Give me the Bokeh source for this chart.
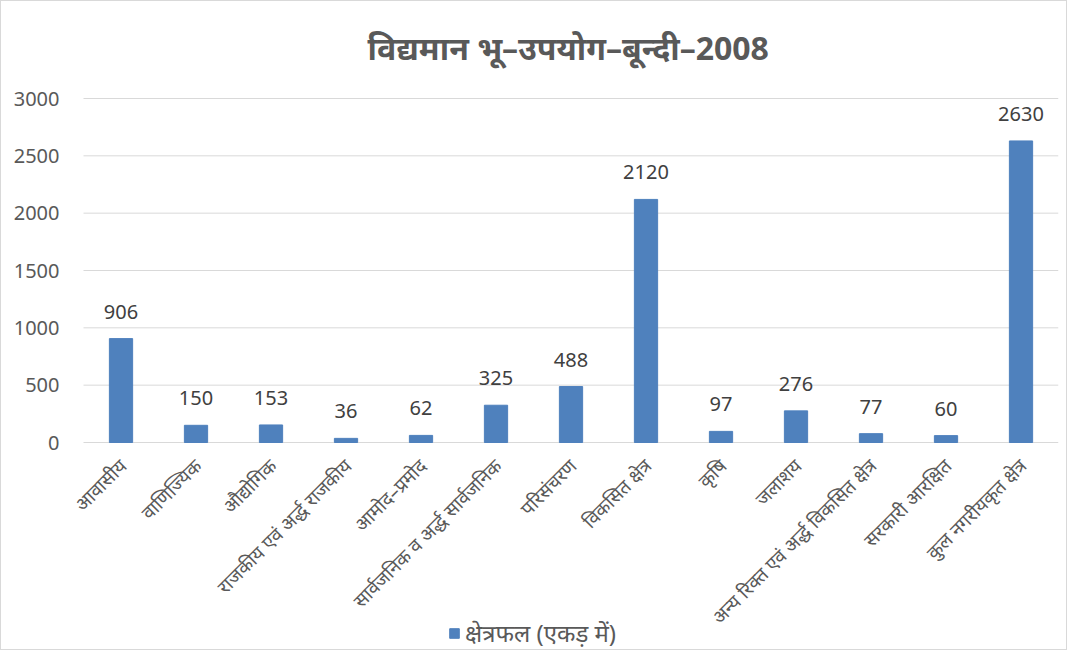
import math
from bokeh.plotting import figure
from bokeh.models import ColumnDataSource, Range1d, Legend, LegendItem
from bokeh.core.properties import value
from bokeh.embed import file_html
from bokeh.resources import INLINE

categories = ["आवासीय", "वाणिज्यिक", "औद्योगिक", "राजकीय एवं अर्द्ध राजकीय", "आमोद–प्रमोद",
              "सार्वजनिक व अर्द्ध सार्वजनिक", "परिसंचरण", "विकसित क्षेत्र", "कृषि", "जलाशय",
              "अन्य रिक्त एवं अर्द्ध विकसित क्षेत्र", "सरकारी आरक्षित", "कुल नगरीयकृत क्षेत्र"]
area = [906, 150, 153, 36, 62, 325, 488, 2120, 97, 276, 77, 60, 2630]
y_ticks = [0, 500, 1000, 1500, 2000, 2500, 3000]
title_text = "विद्यमान भू–उपयोग–बून्दी–2008"
series_name = "क्षेत्रफल (एकड़ में)"

FONT = "Noto Sans"
W, H = 1067, 650
PLOT_L, TOP_TICK, ZERO_Y, RIGHT = 82, 97, 441, 1057
FRAME_TOP = 78
n = len(categories)
px_per_cat = (RIGHT - PLOT_L) / n
ytop_tick = y_ticks[-1]
px_per_unit = (ZERO_Y - TOP_TICK) / ytop_tick
ymin = -(H - ZERO_Y) / px_per_unit
ymax = (ZERO_Y - FRAME_TOP) / px_per_unit

xs = [i + 0.5 for i in range(n)]
source = ColumnDataSource(dict(x=xs, cat=categories, val=area, lab=[str(v) for v in area],
                               zero=[0] * n))
tick_src = ColumnDataSource(dict(y=y_ticks, lab=[str(t) for t in y_ticks],
                                 x0=[0] * len(y_ticks), x1=[n] * len(y_ticks)))

p = figure(width=W, height=H, x_range=Range1d(-PLOT_L / px_per_cat, n),
           y_range=Range1d(ymin, ymax), output_backend="svg", toolbar_location=None,
           x_axis_location=None, y_axis_location=None,
           min_border_left=0, min_border_right=W - RIGHT, min_border_top=FRAME_TOP,
           min_border_bottom=0)
p.outline_line_color = None
p.grid.visible = False
p.background_fill_color = "white"
p.border_fill_color = "white"
p.styles = {"border": "1px solid #d9d9d9"}

# gridlines and value axis labels
p.segment(x0="x0", x1="x1", y0="y", y1="y", source=tick_src, line_color="#d9d9d9", line_width=1)
p.text(x="x0", y="y", text="lab", source=tick_src, text_align="right", text_baseline="middle",
       x_offset=-24, text_font=value(FONT), text_font_size="20px", text_color="#595959")

r = p.vbar(x="x", top="val", width=0.31, source=source, color="#4F81BD")
p.text(x="x", y="val", text="lab", source=source, text_align="center", text_baseline="bottom",
       y_offset=-20, text_font=value(FONT), text_font_size="20px", text_color="#404040")

# category labels, rotated 45 degrees under the baseline
p.text(x="x", y="zero", text="cat", source=source, angle=math.pi / 4,
       text_align="right", text_baseline="middle", x_offset=2, y_offset=20,
       text_font=value(FONT), text_font_size="19px", text_color="#595959")

p.title.text = title_text
p.title.align = "left"
p.title.offset = 366
p.title.text_font = FONT
p.title.text_font_size = "32px"
p.title.text_color = "#595959"
p.title.text_font_style = "bold"
p.title.standoff = 21

legend = Legend(items=[LegendItem(label=series_name, renderers=[r])], location=(447, 2),
                label_text_font=FONT, label_text_font_size="24px", label_text_color="#595959",
                glyph_width=12, glyph_height=12, label_standoff=5, padding=2, margin=0,
                border_line_color=None, background_fill_alpha=0)
p.add_layout(legend, "center")

open("out.html", "w").write(file_html(p, INLINE))
